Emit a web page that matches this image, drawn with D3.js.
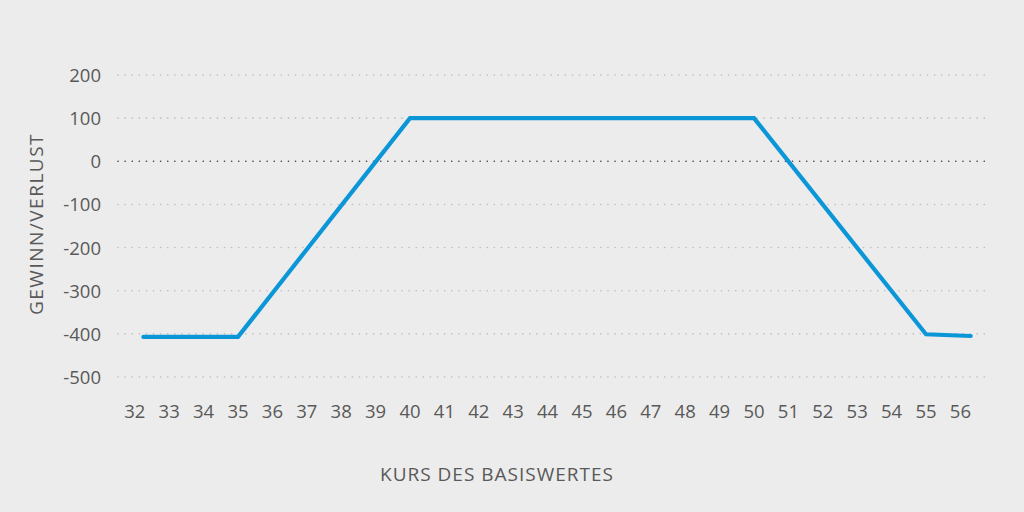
<!DOCTYPE html>
<html><head><meta charset="utf-8">
<script src="https://cdn.jsdelivr.net/npm/d3@7"></script>
<style>
body{margin:0;background:#ececec;}
text{font-family:"Open Sans","Noto Sans",sans-serif;fill:#595959;}
</style></head>
<body>
<svg id="c" width="1024" height="512"></svg>
<script>
const xTicks = d3.range(32, 57);
const yTicks = [200, 100, 0, -100, -200, -300, -400, -500];
const priceX = [32.25, 35, 40, 50, 55, 56.3];
const profitY = [-407, -407, 100, 100, -401, -405];
const xTitle = "KURS DES BASISWERTES";
const yTitle = "GEWINN/VERLUST";

const svg = d3.select("#c");
svg.append("rect").attr("width",1024).attr("height",512).attr("fill","#ececec");
const x = d3.scaleLinear().domain([32, 56]).range([134.8, 960.4]);
const y = d3.scaleLinear().domain([-500, 200]).range([377, 75]);

// grid
const g = svg.append("g");
g.selectAll("line").data(yTicks).join("line")
  .attr("x1",118).attr("x2",988)
  .attr("y1",d=>y(d)).attr("y2",d=>y(d))
  .attr("stroke",d=>d===0?"#444":"#bdbdbd")
  .attr("stroke-width",1.6)
  .attr("stroke-linecap","round")
  .attr("stroke-dasharray","0.1,7");

// y labels
svg.selectAll(".yl").data(yTicks).join("text")
  .attr("x",101).attr("y",d=>y(d)+7)
  .attr("text-anchor","end").attr("font-size",18.5)
  .text(d=>d);
// x labels
svg.selectAll(".xl").data(xTicks).join("text")
  .attr("x",d=>x(d)).attr("y",418)
  .attr("text-anchor","middle").attr("font-size",18.5)
  .text(d=>d);

const pts = priceX.map((v,i)=>[v, profitY[i]]);
svg.append("path").datum(pts)
  .attr("d", d3.line().x(d=>x(d[0])).y(d=>y(d[1])))
  .attr("fill","none").attr("stroke","#0b96d8").attr("stroke-width",4.2)
  .attr("stroke-linejoin","miter").attr("stroke-linecap","round");

svg.append("text").attr("x",497).attr("y",481).attr("text-anchor","middle")
  .attr("font-size",19).attr("letter-spacing",1).text(xTitle);
svg.append("text").attr("transform","translate(43,224) rotate(-90)")
  .attr("text-anchor","middle").attr("font-size",19).attr("letter-spacing",1.5).text(yTitle);
</script>
</body></html>
